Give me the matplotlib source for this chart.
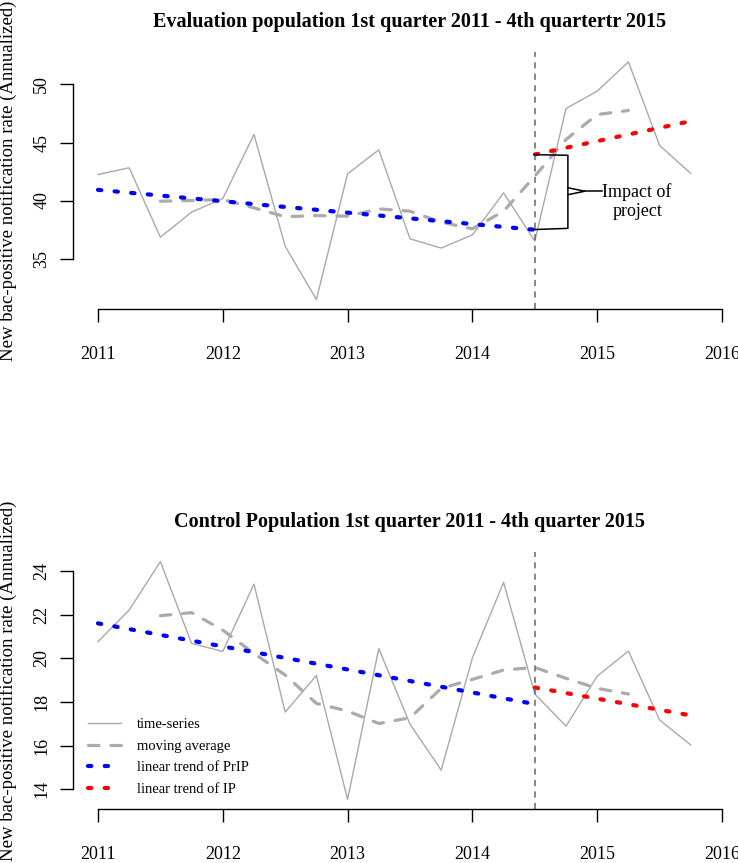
import matplotlib.pyplot as plt
from matplotlib.lines import Line2D

plt.rcParams['font.family'] = ['Liberation Serif', 'DejaVu Serif']

# quarters 2011 Q1 .. 2015 Q4
quarters = [2011.0, 2011.25, 2011.5, 2011.75, 2012.0, 2012.25, 2012.5, 2012.75,
            2013.0, 2013.25, 2013.5, 2013.75, 2014.0, 2014.25, 2014.5, 2014.75,
            2015.0, 2015.25, 2015.5, 2015.75]
ma_quarters = quarters[2:18]
year_ticks = [2011, 2012, 2013, 2014, 2015, 2016]
intervention = 2014.5

# evaluation population
eval_ts = [42.24, 42.82, 36.84, 39.0, 40.17, 45.69, 36.06, 31.47, 42.3, 44.37,
           36.7, 35.9, 37.04, 40.66, 36.5, 47.93, 49.43, 51.95, 44.74, 42.33]
eval_ma = [39.94, 40.0, 40.09, 39.37, 38.6, 38.7, 38.65, 39.28, 39.08, 38.13,
           37.56, 39.08, 42.1, 45.26, 47.41, 47.76]
eval_prip_x = [2011.0, 2014.5]
eval_prip = [40.92, 37.48]
eval_ip_x = [2014.5, 2015.75]
eval_ip = [43.97, 46.84]

# control population
ctrl_ts = [20.76, 22.21, 24.43, 20.68, 20.31, 23.4, 17.53, 19.21, 13.53, 20.44,
           16.98, 14.87, 20.02, 23.48, 18.36, 16.89, 19.18, 20.33, 17.17, 16.02]
ctrl_ma = [21.95, 22.09, 21.29, 20.22, 19.23, 17.93, 17.58, 17.01, 17.27, 18.62,
           19.03, 19.46, 19.58, 19.08, 18.62, 18.36]
ctrl_prip_x = [2011.0, 2014.5]
ctrl_prip = [21.6, 17.9]
ctrl_ip_x = [2014.5, 2015.75]
ctrl_ip = [18.66, 17.38]

ylabel = 'New bac-positive notification rate (Annualized)'

fig = plt.figure(figsize=(7.38, 8.63), dpi=100)
W, H = 738.0, 863.0
ax_top = fig.add_axes([73 / W, 1 - 309 / H, 674 / W, 257 / H])
ax_bot = fig.add_axes([73 / W, 1 - 809 / H, 674 / W, 257 / H])


def draw_panel(ax, ts, ma, prip_x, prip, ip_x, ip, ylim, yticks, title):
    ax.plot(quarters, ts, color='#a9a9a9', lw=1.0, label='time-series')
    ax.plot(ma_quarters, ma, color='#ababab', lw=2.3, dashes=(3.3, 3.7),
            dash_capstyle='round', label='moving average')
    ax.plot(prip_x, prip, color='#0000ff', lw=3.0, dashes=(0.8, 3.2),
            dash_capstyle='round', label='linear trend of PrIP')
    ax.plot(ip_x, ip, color='#ff0000', lw=3.0, dashes=(0.8, 3.2),
            dash_capstyle='round', label='linear trend of IP')
    ax.axvline(intervention, color='#666666', lw=1.1, dashes=(4, 3.5))

    ax.set_xlim(2010.8, 2016.2)
    ax.set_ylim(*ylim)
    ax.set_xticks(year_ticks)
    ax.set_yticks(yticks)
    for s in ['top', 'right']:
        ax.spines[s].set_visible(False)
    ax.spines['bottom'].set_bounds(2011, 2016)
    ax.spines['left'].set_bounds(yticks[0], yticks[-1])
    ax.spines['bottom'].set_linewidth(1.0)
    ax.spines['left'].set_linewidth(1.0)
    ax.tick_params(direction='out', length=9.4, width=1.0, labelsize=13)
    ax.tick_params(axis='x', pad=17)
    ax.tick_params(axis='y', pad=7)
    for lab in ax.get_yticklabels():
        lab.set_rotation(90)
        lab.set_va('center')
    ax.set_title(title, fontsize=14.5, fontweight='bold', pad=18)
    ax.set_ylabel(ylabel, fontsize=13.5)
    ax.yaxis.set_label_coords(-0.083, 0.5)


draw_panel(ax_top, eval_ts, eval_ma, eval_prip_x, eval_prip, eval_ip_x, eval_ip,
           (30.65, 52.8), [35, 40, 45, 50],
           'Evaluation population 1st quarter 2011 - 4th quartertr 2015')
draw_panel(ax_bot, ctrl_ts, ctrl_ma, ctrl_prip_x, ctrl_prip, ctrl_ip_x, ctrl_ip,
           (13.09, 24.87), [14, 16, 18, 20, 22, 24],
           'Control Population 1st quarter 2011 - 4th quarter 2015')

# "impact of project" bracket
bx = 2014.765
ymid = 40.8
ax_top.plot([intervention, bx, bx, intervention], [43.95, 43.9, 37.6, 37.5],
            color='black', lw=1.1)
ax_top.plot([bx, 2014.9, bx], [ymid + 0.3, ymid, ymid - 0.3], color='black', lw=1.1)
ax_top.plot([2014.9, 2015.04], [ymid, ymid], color='black', lw=1.1)
ax_top.text(2015.32, 39.9, 'Impact of\nproject', fontsize=13, ha='center',
            va='center', linespacing=1.15)

handles, labels = ax_bot.get_legend_handles_labels()
ax_bot.legend(handles, labels, loc='lower left', bbox_to_anchor=(0.022, 0.05),
              frameon=False, fontsize=10.5, borderpad=0, borderaxespad=0,
              handlelength=2.26, handletextpad=1.1, labelspacing=0.58)

fig.savefig('out.png', dpi=100)
